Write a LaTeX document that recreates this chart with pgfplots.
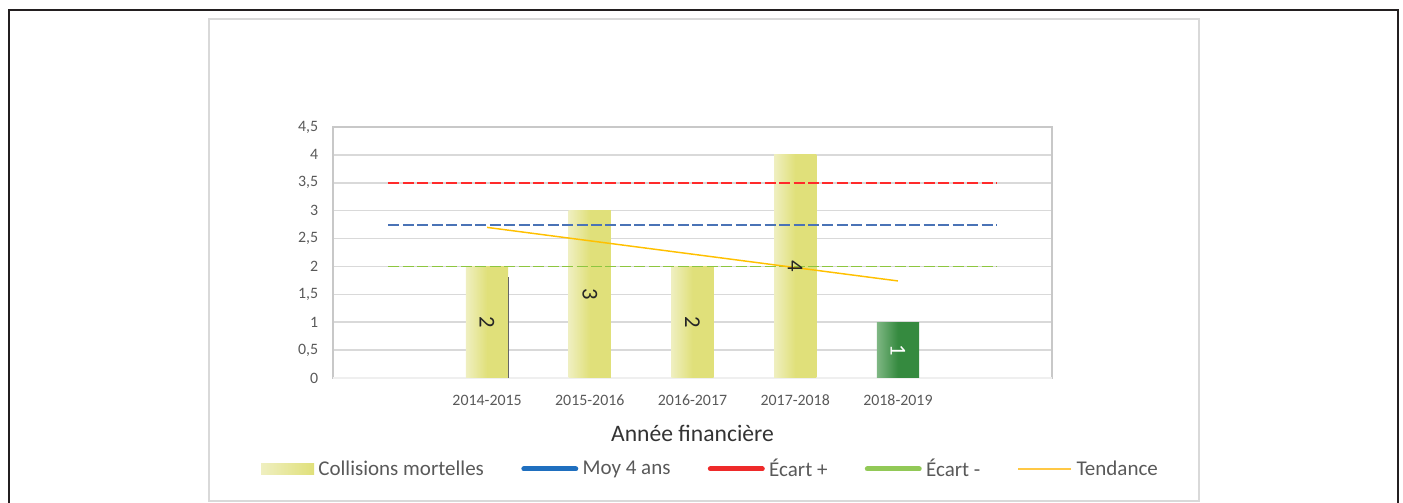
\documentclass[border=0pt]{standalone}
\usepackage{fontspec}
\setmainfont{Carlito}
\usepackage{pgfplots}
\pgfplotsset{compat=1.18}
\definecolor{barY}{HTML}{E0E07A}
\definecolor{barYL}{HTML}{EFEFC0}
\definecolor{barG}{HTML}{358A3F}
\definecolor{barGL}{HTML}{7FB784}
\definecolor{redL}{HTML}{FF2A2A}
\definecolor{blueL}{HTML}{4A73B6}
\definecolor{greenL}{HTML}{8DC63F}
\definecolor{trend}{HTML}{FFC000}
\definecolor{legBlue}{HTML}{1F6FBF}
\definecolor{legRed}{HTML}{EE2A2A}
\definecolor{legGreen}{HTML}{92C957}
\definecolor{legTrend}{HTML}{FFC845}
\definecolor{txt}{HTML}{595959}
\definecolor{dtxt}{HTML}{333333}
\definecolor{gridc}{HTML}{D9D9D9}
\definecolor{boxc}{HTML}{C8C8C8}
\definecolor{framec}{HTML}{231F20}
\pgfplotsset{
  ybarY/.style={ybar, bar width=0.412, bar shift=0pt, draw=none,
    left color=barYL, right color=barY, middle color=barY,
    nodes near coords,
    every node near coord/.append style={shift={(axis direction cs:0,-\rawy/2)}, rotate=-90, anchor=center, font=\fontsize{17}{20}\selectfont, text=black!85}},
}
\begin{document}
\begin{tikzpicture}
\begin{scope}[x=0.75pt,y=0.75pt]
\path[use as bounding box] (0,0) rectangle (1403,503);
\draw[framec, line width=1.5pt] (8.5,-3) -- (8.5,492.5) -- (1397.5,492.5) -- (1397.5,-3);
\draw[gridc, line width=1.5pt] (208.5,2) rectangle (1198.5,484);
\end{scope}
\begin{axis}[
  at={(249.75pt,93.75pt)}, anchor=south west, scale only axis,
  width=539.25pt, height=188.25pt,
  xmin=-0.5, xmax=6.5, ymin=0, ymax=4.5,
  xtick={1,2,3,4,5},
  xticklabels={2014-2015,2015-2016,2016-2017,2017-2018,2018-2019},
  ytick={0,0.5,1,1.5,2,2.5,3,3.5,4,4.5},
  major tick length=0pt,
  ymajorgrids, grid style={gridc, line width=1.1pt},
  extra y ticks={0}, extra y tick labels={},
  extra y tick style={grid style={color=gridc!110!black, line width=2.2pt}},
  axis line style={draw=boxc, line width=0.8pt},
  /pgf/number format/assume math mode=true,
  /pgf/number format/use comma,
  yticklabel style={font=\fontsize{11.9}{14}\selectfont, text=txt, anchor=east, inner sep=0pt, xshift=-11pt},
  xticklabel style={font=\fontsize{11.9}{14}\selectfont, text=txt, anchor=center, inner sep=0pt, yshift=-16.5pt},
  xlabel={Année financière},
  xlabel style={at={(axis description cs:0.5,0)}, anchor=center, yshift=-41.5pt, font=\fontsize{17.7}{20}\selectfont, text=dtxt},
  legend columns=5,
  legend style={at={(axis description cs:0.5236,-0.3625)}, anchor=center, draw=none, fill=none,
    font=\fontsize{15.75}{18}\selectfont, text=txt, nodes={inner sep=0pt},
    /tikz/every odd column/.append style={column sep=3.3pt},
    /tikz/every even column/.append style={column sep=28pt}},
  visualization depends on=y \as \rawy,
]
\addplot[ybarY,
  legend image code/.code={\shade[left color=barYL, right color=barY] (0pt,-4.1pt) rectangle (39.75pt,4.1pt);}]
  coordinates {(1,2)};
\addlegendentry{Collisions mortelles}
\addplot[ybarY, forget plot] coordinates {(2,3)};
\addplot[ybarY, forget plot] coordinates {(3,2)};
\addplot[ybarY, forget plot] coordinates {(4,4)};
\addplot[ybar, bar width=0.412, bar shift=0pt, draw=none,
  left color=barGL, right color=barG, middle color=barG,
  nodes near coords, forget plot,
  every node near coord/.append style={shift={(axis direction cs:0,-\rawy/2)}, rotate=-90, anchor=center, font=\fontsize{17}{20}\selectfont, text=white}]
  coordinates {(5,1)};
\addplot[draw=black!60, line width=0.75pt, forget plot] coordinates {(1.206,0) (1.206,1.81)};
\addplot[blueL, line width=1.4pt, dash pattern=on 8.25pt off 2.6pt,
  legend image code/.code={\draw[legBlue, solid, line width=3.75pt, line cap=round] (1.9pt,0pt) -- (40.85pt,0pt);}]
  coordinates {(0.04,2.75) (5.96,2.75)};
\addlegendentry{Moy 4 ans}
\addplot[redL, line width=1.4pt, dash pattern=on 8.25pt off 2.6pt,
  legend image code/.code={\draw[legRed, solid, line width=3.75pt, line cap=round] (1.9pt,0pt) -- (40.85pt,0pt);}]
  coordinates {(0.04,3.5) (5.96,3.5)};
\addlegendentry{Écart +}
\addplot[greenL, line width=1.4pt, dash pattern=on 8.25pt off 2.6pt,
  legend image code/.code={\draw[legGreen, solid, line width=3.75pt, line cap=round] (1.9pt,0pt) -- (40.85pt,0pt);}]
  coordinates {(0.04,2) (5.96,2)};
\addlegendentry{Écart -}
\addplot[trend, line width=1.1pt,
  legend image code/.code={\draw[legTrend, solid, line width=1.1pt] (0pt,0pt) -- (39.75pt,0pt);}]
  coordinates {(1,2.70) (5,1.74)};
\addlegendentry{Tendance}
\end{axis}
\end{tikzpicture}
\end{document}
